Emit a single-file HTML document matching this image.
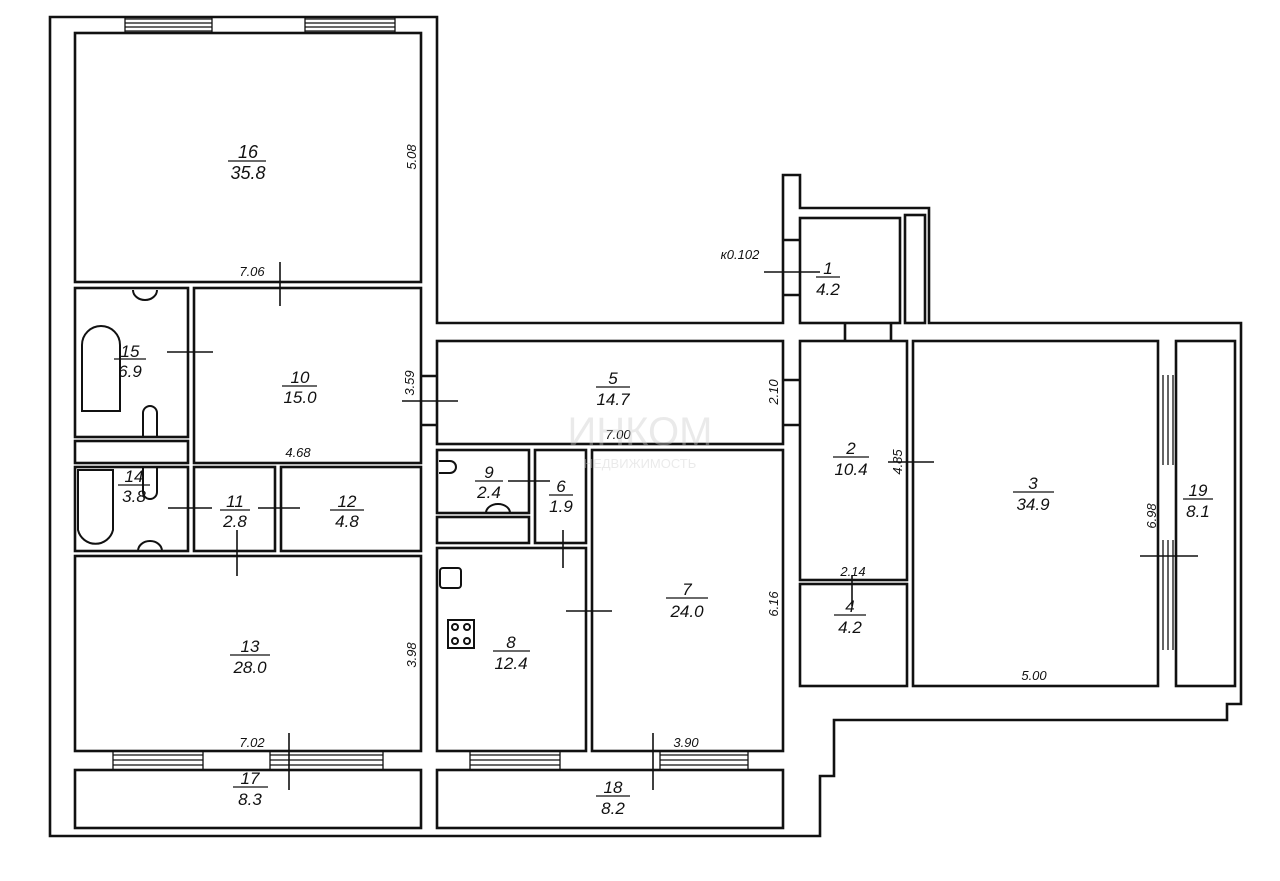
<!DOCTYPE html>
<html><head><meta charset="utf-8">
<style>
html,body{margin:0;padding:0;background:#fff;}
svg{display:block}
text{font-family:"Liberation Sans",sans-serif;font-style:italic;fill:#111;}
</style></head>
<body>
<svg width="1280" height="881" viewBox="0 0 1280 881" xmlns="http://www.w3.org/2000/svg">
<rect width="1280" height="881" fill="#fff"/>
<g fill="none" stroke="#111" stroke-width="2.6">
<path d="M50,17 H437 V323 H783 V175 H800 V208 H929 V323 H1241 V704 H1227 V720 H834 V776 H820 V836 H50 Z"/>
<rect x="75" y="33" width="346" height="249"/>
<rect x="75" y="288" width="113" height="149"/>
<rect x="194" y="288" width="227" height="175"/>
<rect x="75" y="441" width="113" height="22"/>
<rect x="75" y="467" width="113" height="84"/>
<rect x="194" y="467" width="81" height="84"/>
<rect x="281" y="467" width="140" height="84"/>
<rect x="75" y="556" width="346" height="195"/>
<rect x="75" y="770" width="346" height="58"/>
<rect x="437" y="341" width="346" height="103"/>
<rect x="437" y="450" width="92" height="63"/>
<rect x="437" y="517" width="92" height="26"/>
<rect x="535" y="450" width="51" height="93"/>
<rect x="437" y="548" width="149" height="203"/>
<rect x="592" y="450" width="191" height="301"/>
<rect x="437" y="770" width="346" height="58"/>
<rect x="800" y="218" width="100" height="105"/>
<rect x="905" y="215" width="20" height="108"/>
<rect x="800" y="341" width="107" height="239"/>
<rect x="800" y="584" width="107" height="102"/>
<rect x="913" y="341" width="245" height="345"/>
<rect x="1176" y="341" width="59" height="345"/>
<path d="M845,323 V341 M891,323 V341"/>
<path d="M783,240 H800 M783,295 H800 M421,376 H437 M421,425 H437 M783,380 H800 M783,425 H800"/>
</g>
<g stroke="#111" stroke-width="1.3" fill="none">
<path d="M125,19 H212 M125,23 H212 M125,27 H212 M125,31 H212 M305,19 H395 M305,23 H395 M305,27 H395 M305,31 H395"/>
<path d="M125,17 V33 M212,17 V33 M305,17 V33 M395,17 V33"/>
<path d="M113,755 H203 M113,760 H203 M113,765 H203 M270,755 H383 M270,760 H383 M270,765 H383 M113,751 V770 M203,751 V770 M270,751 V770 M383,751 V770"/>
<path d="M470,755 H560 M470,760 H560 M470,765 H560 M660,755 H748 M660,760 H748 M660,765 H748 M470,751 V770 M560,751 V770 M660,751 V770 M748,751 V770"/>
<path d="M1163,375 V465 M1168,375 V465 M1173,375 V465 M1163,540 V650 M1168,540 V650 M1173,540 V650"/>
</g>
<g stroke="#111" stroke-width="1.6">
<path d="M280,262 V306 M167,352 H213 M402,401 H458 M168,508 H212 M258,508 H300 M237,530 V576 M508,481 H550 M563,530 V568 M566,611 H612 M764,272 H820 M888,462 H934 M852,575 V606 M1140,556 H1198 M289,733 V790 M653,733 V790"/>
</g>
<g stroke="#111" stroke-width="2" fill="none">
<path d="M82,411 V345 A19,19 0 0 1 120,345 V411 Z"/>
<path d="M78,470 H113 V530 A18,18 0 0 1 78,530 Z"/>
<path d="M133,290 A12,10 0 0 0 157,290"/>
<path d="M138,551 A12,10 0 0 1 162,551"/>
<path d="M143,437 V413 A7,7 0 0 1 157,413 V437"/>
<path d="M143,467 V492 A7,7 0 0 0 157,492 V467"/>
<path d="M439,461 H450 A6,6 0 0 1 450,473 H439"/>
<path d="M486,513 A12,9 0 0 1 510,513"/>
<rect x="440" y="568" width="21" height="20" rx="3"/>
<rect x="448" y="620" width="26" height="28"/>
<circle cx="455" cy="627" r="3"/><circle cx="467" cy="627" r="3"/><circle cx="455" cy="641" r="3"/><circle cx="467" cy="641" r="3"/>
</g>
<g font-size="17" text-anchor="middle">
<g stroke="#111" stroke-width="1.3">
<path d="M228,161 H266 M114,359 H146 M282,386 H317 M118,485 H150 M220,510 H250 M330,510 H364 M230,655 H270 M233,787 H268 M596,387 H630 M475,481 H503 M549,495 H573 M493,651 H530 M666,598 H708 M596,796 H630 M816,277 H840 M833,457 H869 M834,615 H866 M1013,492 H1054 M1183,499 H1213"/>
</g>
<text x="248" y="158" font-size="18">16</text><text x="248" y="179" font-size="18">35.8</text>
<text x="130" y="357">15</text><text x="130" y="377">6.9</text>
<text x="300" y="383">10</text><text x="300" y="403">15.0</text>
<text x="134" y="482">14</text><text x="134" y="502">3.8</text>
<text x="235" y="507">11</text><text x="235" y="527">2.8</text>
<text x="347" y="507">12</text><text x="347" y="527">4.8</text>
<text x="250" y="652">13</text><text x="250" y="673" fill="#555">28.0</text>
<text x="250" y="784">17</text><text x="250" y="805" fill="#555">8.3</text>
<text x="613" y="384">5</text><text x="613" y="405">14.7</text>
<text x="489" y="478">9</text><text x="489" y="498">2.4</text>
<text x="561" y="492">6</text><text x="561" y="512">1.9</text>
<text x="511" y="648">8</text><text x="511" y="669">12.4</text>
<text x="687" y="595">7</text><text x="687" y="617">24.0</text>
<text x="613" y="793">18</text><text x="613" y="814">8.2</text>
<text x="828" y="274">1</text><text x="828" y="295">4.2</text>
<text x="851" y="454">2</text><text x="851" y="475">10.4</text>
<text x="850" y="612">4</text><text x="850" y="633">4.2</text>
<text x="1033" y="489">3</text><text x="1033" y="510">34.9</text>
<text x="1198" y="496">19</text><text x="1198" y="517">8.1</text>
</g>
<g font-size="13" text-anchor="middle">
<text x="252" y="276">7.06</text>
<text x="298" y="457">4.68</text>
<text x="618" y="439">7.00</text>
<text x="252" y="747">7.02</text>
<text x="686" y="747">3.90</text>
<text x="1034" y="680">5.00</text>
<text x="853" y="576">2.14</text>
<text x="740" y="259">к0.102</text>
<text transform="translate(416,157) rotate(-90)">5.08</text>
<text transform="translate(414,383) rotate(-90)">3.59</text>
<text transform="translate(778,392) rotate(-90)">2.10</text>
<text transform="translate(902,462) rotate(-90)">4.85</text>
<text transform="translate(778,604) rotate(-90)">6.16</text>
<text transform="translate(416,655) rotate(-90)">3.98</text>
<text transform="translate(1156,516) rotate(-90)">6.98</text>
</g>
<g opacity="0.4">
<text x="640" y="445" font-size="40" text-anchor="middle" style="font-style:normal;fill:#ccc">ИНКОМ</text>
<text x="640" y="468" font-size="13" text-anchor="middle" style="font-style:normal;fill:#ccc">НЕДВИЖИМОСТЬ</text>
</g>
</svg>
</body></html>
